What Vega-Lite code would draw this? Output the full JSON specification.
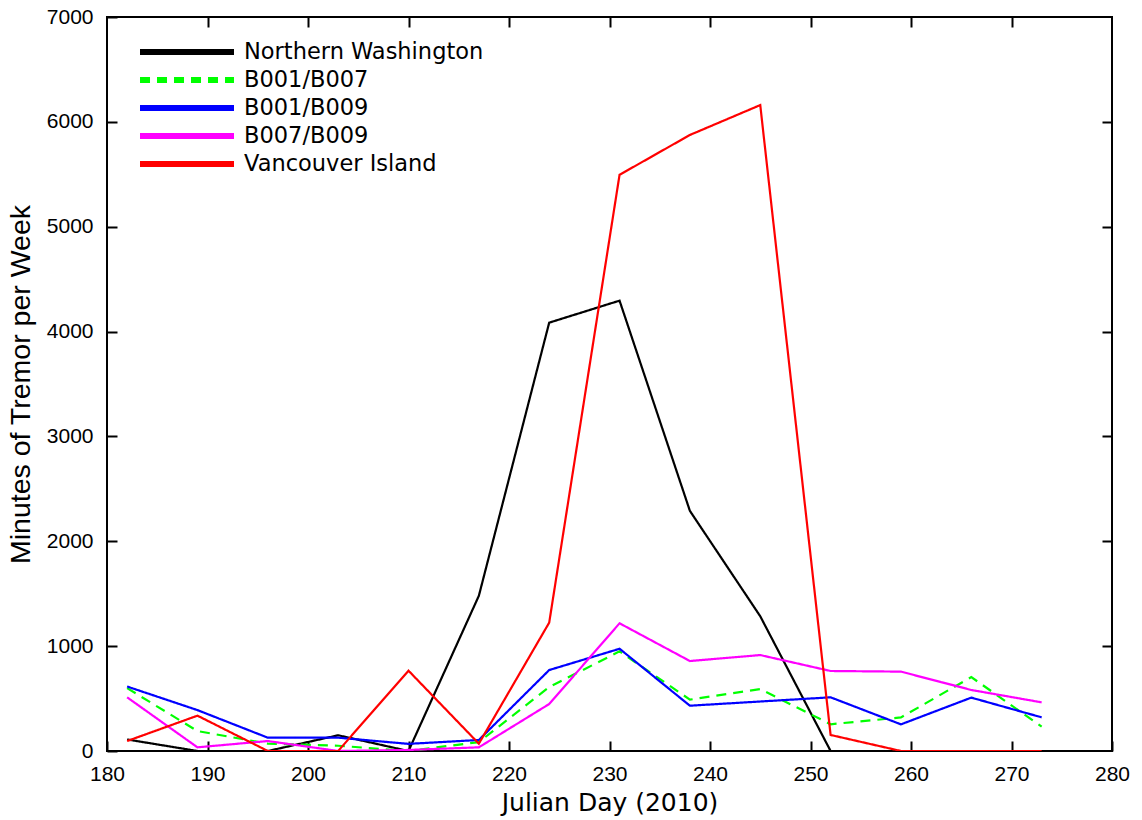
{
  "$schema": "https://vega.github.io/schema/vega-lite/v6.json",
  "width": 1005,
  "height": 734,
  "autosize": {"type": "none"},
  "padding": {"left": 107, "top": 17, "right": 30, "bottom": 69},
  "background": "white",
  "config": {
    "view": {"stroke": "black", "strokeWidth": 2},
    "axis": {"grid": false, "domain": false, "tickColor": "black", "tickWidth": 2, "tickSize": -10, "labelFlush": false,
             "labelFont": "Liberation Sans", "labelFontSize": 21, "labelColor": "black",
             "titleFont": "DejaVu Sans", "titleFontWeight": "normal", "titleColor": "black"}
  },
  "data": {"values": [
    {"series": "Northern Washington", "day": 182, "minutes": 110},
    {"series": "Northern Washington", "day": 189, "minutes": 0},
    {"series": "Northern Washington", "day": 196, "minutes": 0},
    {"series": "Northern Washington", "day": 203, "minutes": 150},
    {"series": "Northern Washington", "day": 210, "minutes": 0},
    {"series": "Northern Washington", "day": 217, "minutes": 1480},
    {"series": "Northern Washington", "day": 224, "minutes": 4085},
    {"series": "Northern Washington", "day": 231, "minutes": 4295},
    {"series": "Northern Washington", "day": 238, "minutes": 2290},
    {"series": "Northern Washington", "day": 245, "minutes": 1285},
    {"series": "Northern Washington", "day": 252, "minutes": 0},
    {"series": "Northern Washington", "day": 259, "minutes": 0},
    {"series": "Northern Washington", "day": 266, "minutes": 0},
    {"series": "Northern Washington", "day": 273, "minutes": 0},
    {"series": "B001/B007", "day": 182, "minutes": 600},
    {"series": "B001/B007", "day": 189, "minutes": 190},
    {"series": "B001/B007", "day": 196, "minutes": 70},
    {"series": "B001/B007", "day": 203, "minutes": 50},
    {"series": "B001/B007", "day": 210, "minutes": 0},
    {"series": "B001/B007", "day": 217, "minutes": 85},
    {"series": "B001/B007", "day": 224, "minutes": 610},
    {"series": "B001/B007", "day": 231, "minutes": 950},
    {"series": "B001/B007", "day": 238, "minutes": 490},
    {"series": "B001/B007", "day": 245, "minutes": 590},
    {"series": "B001/B007", "day": 252, "minutes": 255},
    {"series": "B001/B007", "day": 259, "minutes": 320},
    {"series": "B001/B007", "day": 266, "minutes": 705},
    {"series": "B001/B007", "day": 273, "minutes": 232},
    {"series": "B001/B009", "day": 182, "minutes": 615},
    {"series": "B001/B009", "day": 189, "minutes": 390},
    {"series": "B001/B009", "day": 196, "minutes": 127},
    {"series": "B001/B009", "day": 203, "minutes": 127},
    {"series": "B001/B009", "day": 210, "minutes": 68},
    {"series": "B001/B009", "day": 217, "minutes": 105},
    {"series": "B001/B009", "day": 224, "minutes": 772},
    {"series": "B001/B009", "day": 231, "minutes": 975},
    {"series": "B001/B009", "day": 238, "minutes": 432},
    {"series": "B001/B009", "day": 245, "minutes": 472},
    {"series": "B001/B009", "day": 252, "minutes": 512},
    {"series": "B001/B009", "day": 259, "minutes": 254},
    {"series": "B001/B009", "day": 266, "minutes": 509},
    {"series": "B001/B009", "day": 273, "minutes": 321},
    {"series": "B007/B009", "day": 182, "minutes": 512},
    {"series": "B007/B009", "day": 189, "minutes": 35},
    {"series": "B007/B009", "day": 196, "minutes": 95},
    {"series": "B007/B009", "day": 203, "minutes": 0},
    {"series": "B007/B009", "day": 210, "minutes": 10},
    {"series": "B007/B009", "day": 217, "minutes": 35},
    {"series": "B007/B009", "day": 224, "minutes": 448},
    {"series": "B007/B009", "day": 231, "minutes": 1218},
    {"series": "B007/B009", "day": 238, "minutes": 858},
    {"series": "B007/B009", "day": 245, "minutes": 915},
    {"series": "B007/B009", "day": 252, "minutes": 763},
    {"series": "B007/B009", "day": 259, "minutes": 757},
    {"series": "B007/B009", "day": 266, "minutes": 582},
    {"series": "B007/B009", "day": 273, "minutes": 464},
    {"series": "Vancouver Island", "day": 182, "minutes": 95},
    {"series": "Vancouver Island", "day": 189, "minutes": 337},
    {"series": "Vancouver Island", "day": 196, "minutes": 0},
    {"series": "Vancouver Island", "day": 203, "minutes": 0},
    {"series": "Vancouver Island", "day": 210, "minutes": 766},
    {"series": "Vancouver Island", "day": 217, "minutes": 70},
    {"series": "Vancouver Island", "day": 224, "minutes": 1224},
    {"series": "Vancouver Island", "day": 231, "minutes": 5495},
    {"series": "Vancouver Island", "day": 238, "minutes": 5875},
    {"series": "Vancouver Island", "day": 245, "minutes": 6160},
    {"series": "Vancouver Island", "day": 252, "minutes": 153},
    {"series": "Vancouver Island", "day": 259, "minutes": 0},
    {"series": "Vancouver Island", "day": 266, "minutes": 0},
    {"series": "Vancouver Island", "day": 273, "minutes": 0}
  ]},
  "layer": [
    {
      "mark": {"type": "line", "strokeWidth": 2.2, "clip": true},
      "encoding": {
        "x": {"field": "day", "type": "quantitative",
              "scale": {"domain": [180, 280], "nice": false, "zero": false},
              "axis": {"orient": "bottom", "values": [180, 190, 200, 210, 220, 230, 240, 250, 260, 270, 280], "format": "d",
                       "title": "Julian Day (2010)", "titleFontSize": 25, "labelPadding": 22, "titlePadding": 6}},
        "y": {"field": "minutes", "type": "quantitative",
              "scale": {"domain": [0, 7000], "nice": false},
              "axis": {"orient": "left", "values": [0, 1000, 2000, 3000, 4000, 5000, 6000, 7000], "format": "d",
                       "title": "Minutes of Tremor per Week", "titleFont": "Liberation Sans", "titleFontSize": 28.5,
                       "labelPadding": 24, "titlePadding": 11}},
        "color": {"field": "series", "type": "nominal",
                  "scale": {"domain": ["Northern Washington", "B001/B007", "B001/B009", "B007/B009", "Vancouver Island"],
                            "range": ["#000000", "#00ff00", "#0000ff", "#ff00ff", "#ff0000"]},
                  "legend": {"title": null, "orient": "none", "legendX": 65, "legendY": 20,
                             "symbolType": "M-4,0H4", "symbolSize": 552, "symbolStrokeWidth": 6,
                             "labelFont": "DejaVu Sans", "labelFontSize": 22.5, "labelColor": "black", "labelLimit": 600,
                             "labelOffset": 42, "rowPadding": 1}},
        "strokeDash": {"field": "series", "type": "nominal",
                       "scale": {"domain": ["Northern Washington", "B001/B007", "B001/B009", "B007/B009", "Vancouver Island"],
                                 "range": [[1, 0], [10, 7], [1, 0], [1, 0], [1, 0]]},
                       "legend": {"title": null}},
        "order": {"field": "day", "type": "quantitative"}
      }
    },
    {
      "mark": {"type": "line", "opacity": 0},
      "encoding": {
        "x": {"field": "day", "type": "quantitative",
              "axis": {"orient": "top", "values": [190, 200, 210, 220, 230, 240, 250, 260, 270], "labels": false, "title": null}},
        "y": {"field": "minutes", "type": "quantitative",
              "axis": {"orient": "right", "values": [1000, 2000, 3000, 4000, 5000, 6000], "labels": false, "title": null}},
        "detail": {"field": "series"}
      }
    }
  ],
  "resolve": {"axis": {"x": "independent", "y": "independent"}}
}
